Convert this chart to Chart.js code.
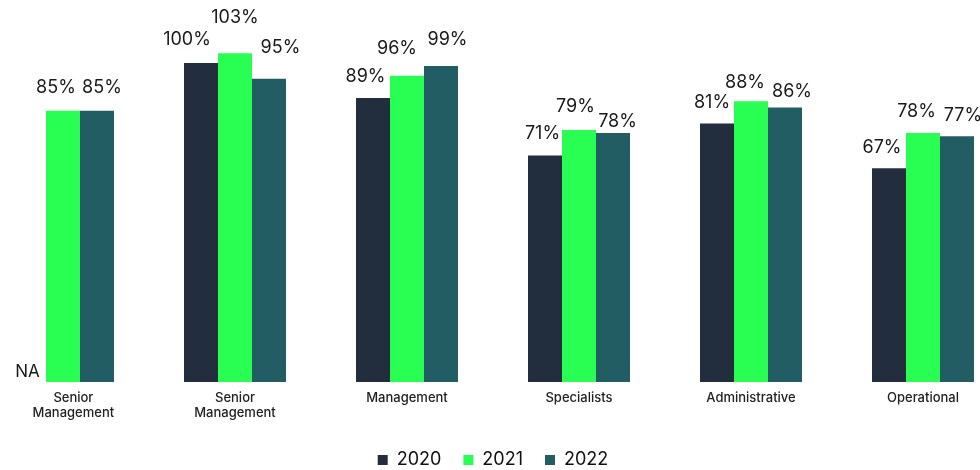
<!DOCTYPE html>
<html>
<head>
<meta charset="utf-8">
<script src="https://cdn.jsdelivr.net/npm/chart.js@4.4.1/dist/chart.umd.min.js"></script>
<style>
  html, body { margin: 0; padding: 0; background: #fff; overflow: hidden; width: 980px; height: 470px; }
  #wrap { position: absolute; left: -23px; top: 0; width: 1032px; height: 480px; }
</style>
</head>
<body>
<div id="wrap"><canvas id="c"></canvas></div>
<script>
// Job levels and yearly percentages
const categories = [["      Senior", "      Management"], ["Senior", "Management"], "Management", "Specialists", "Administrative", "Operational"];
const years = ["2020", "2021", "2022"];
const values2020 = [null, 100, 89, 71, 81, 67];
const values2021 = [85, 103, 96, 79, 88, 78];
const values2022 = [85, 95, 99, 78, 86, 77];
const seriesColors = ["#222e3e", "#29ff52", "#225d64"];

// Small per-label nudges so neighbouring value labels do not collide
const nudgeX = [[0, -14, -7.5, -2.5, -5, -7], [-7, 0, -10, -3.5, -6, -6.5], [5, 11.5, 6.5, 4.5, 7, 6]];
const nudgeY = [[0, 23, 21, 21.5, 20.6, 21], [23, 36, 27, 23, 19, 22], [23, 31, 27, 12, 15.7, 21]];

const FONT = "Inter, 'Noto Sans', sans-serif";

const valueLabels = {
  id: 'valueLabels',
  afterDatasetsDraw(chart) {
    const { ctx } = chart;
    const y0 = chart.scales.y.getPixelForValue(0);
    ctx.save();
    ctx.fillStyle = '#1a1a1a';
    ctx.textAlign = 'center';
    ctx.textBaseline = 'middle';
    chart.data.datasets.forEach((ds, di) => {
      const meta = chart.getDatasetMeta(di);
      meta.data.forEach((bar, i) => {
        const v = ds.data[i];
        if (v === null || v === undefined) {
          ctx.font = '400 17px ' + FONT;
          ctx.fillText('NA', bar.x - 1.5, y0 - 10.5);
          return;
        }
        ctx.font = '400 18px ' + FONT;
        ctx.fillText(v + '%', bar.x + nudgeX[di][i], bar.y - nudgeY[di][i]);
      });
    });
    ctx.restore();
  }
};

const seriesValues = [values2020, values2021, values2022];

new Chart(document.getElementById('c'), {
  type: 'bar',
  data: {
    labels: categories,
    datasets: years.map((y, i) => ({
      label: y,
      data: seriesValues[i],
      backgroundColor: seriesColors[i],
      borderWidth: 0,
      categoryPercentage: 0.593,
      barPercentage: 1
    }))
  },
  options: {
    responsive: true,
    maintainAspectRatio: false,
    animation: false,
    layout: { padding: { top: 31, bottom: 1, left: 0, right: 0 } },
    plugins: {
      legend: {
        position: 'bottom',
        labels: {
          boxWidth: 10,
          boxHeight: 10,
          padding: 22,
          color: '#111',
          font: { family: FONT, size: 18, weight: '400' }
        }
      },
      tooltip: { enabled: false },
      title: { display: false }
    },
    scales: {
      x: {
        grid: { display: false, drawTicks: false },
        border: { display: false },
        ticks: {
          padding: 8,
          maxRotation: 0,
          autoSkip: false,
          color: '#222',
          font: { family: FONT, size: 13, weight: '500', lineHeight: 1.2 }
        },
        afterFit(scale) { scale.height = 47; }
      },
      y: {
        display: false,
        min: 0,
        max: 110
      }
    }
  },
  plugins: [valueLabels]
});
</script>
</body>
</html>
